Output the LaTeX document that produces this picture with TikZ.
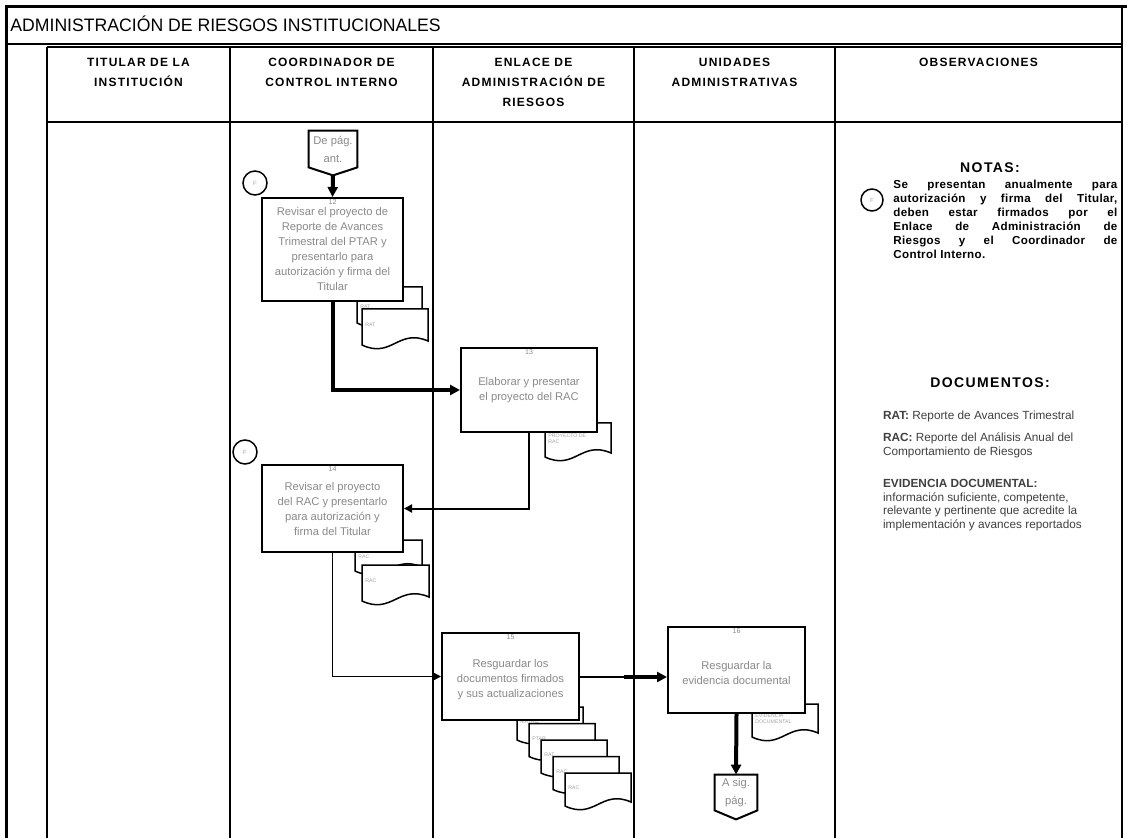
\documentclass[tikz,border=0pt]{standalone}
\usepackage{fontspec}
\setmainfont{Liberation Sans}
\newfontfamily\titlefont[FakeStretch=0.98]{Liberation Sans}
\newfontfamily\headfont[LetterSpace=10]{Liberation Sans}
\newfontfamily\notefont[LetterSpace=3]{Liberation Sans}
\usetikzlibrary{arrows.meta,calc}
\definecolor{boxtext}{HTML}{8A8A8A}
\definecolor{doctext}{HTML}{A5A5A5}
\definecolor{notetext}{HTML}{404040}
\tikzset{
  procbox/.style={draw, line width=1pt, fill=white, align=center, text=boxtext,
    font=\fontsize{5.6}{7.5}\selectfont, inner sep=1pt},
  stepnum/.style={anchor=north, inner sep=1pt, text=boxtext, font=\fontsize{3.5}{4}\selectfont},
  offpage/.style={align=center, text=boxtext, inner sep=0pt, font=\fontsize{5.6}{9}\selectfont},
  flowthick/.style={line width=2pt, -{Triangle[length=5pt,width=5pt]}},
  flowthin/.style={line width=0.7pt, -{Triangle[length=4pt,width=4pt]}},
  docline/.style={line width=0.75pt, fill=white},
  doclabel/.style={anchor=west, align=left, inner sep=0pt, text=doctext, font=\fontsize{2.6}{3}\selectfont},
  sigcirc/.style={draw, circle, line width=0.75pt, minimum size=12pt, inner sep=0pt,
    text=doctext, font=\fontsize{3}{3}\selectfont},
  lane/.style={line width=0.8pt},
  hdr/.style={anchor=north, align=center, font=\headfont\bfseries\fontsize{6}{10}\selectfont},
  notehead/.style={anchor=north, font=\headfont\bfseries\fontsize{7}{8}\selectfont},
  notebody/.style={anchor=north west, align=left, text=notetext, font=\fontsize{5.9}{6.9}\selectfont}
}
% document symbol: name, x, y, width, height, label
\newcommand{\docshape}[6]{%
  \filldraw[docline] (#2,#3) -- (#2+#4,#3) -- (#2+#4,#3+#5-4)
    .. controls (#2+0.55*#4,#3+#5-17) and (#2+0.45*#4,#3+#5+14) .. (#2,#3+#5) -- cycle;
  \node[doclabel] (#1) at (#2+3,#3+0.45*#5) {#6};
}
\begin{document}
\begin{tikzpicture}[x=0.5pt,y=-0.5pt]
\useasboundingbox (0,0) rectangle (1127,838);
\fill[white] (0,0) rectangle (1127,838);
% frame
\draw[line width=1.5pt] (6,838) -- (6,7) -- (1127,7);
\draw[line width=1.2pt] (1122,7) -- (1122,838);
\node[anchor=west, inner sep=0pt, font=\titlefont\fontsize{9}{9}\selectfont] (title) at (10,24)
  {ADMINISTRACIÓN DE RIESGOS INSTITUCIONALES};
\draw[lane] (6,44) -- (1122,44);
\draw[line width=1.2pt] (47,47) -- (1122,47);
\draw[lane] (47,122) -- (1122,122);
\foreach \x in {47,230,433,634,835}
  \draw[lane] (\x,47) -- (\x,838);
% headers
\node[hdr] (hTit) at (138.5,51) {TITULAR DE LA\\INSTITUCIÓN};
\node[hdr] (hCoo) at (331.5,51) {COORDINADOR DE\\CONTROL INTERNO};
\node[hdr] (hEnl) at (533.5,51) {ENLACE DE\\ADMINISTRACIÓN DE\\RIESGOS};
\node[hdr] (hUni) at (734.5,51) {UNIDADES\\ADMINISTRATIVAS};
\node[hdr] (hObs) at (978.5,51) {OBSERVACIONES};

% documents (behind the boxes)
\docshape{d12a}{357}{287}{65}{36}{PROYECTO DE\\RAT}
\docshape{d12b}{362}{309}{66}{36}{RAT}
\docshape{d13}{545}{423}{66}{34}{PROYECTO DE\\RAC}
\docshape{d14a}{355}{540}{67}{31}{PROYECTO\\RAC}
\docshape{d14b}{362}{565}{67}{36}{RAC}
\foreach \i/\lbl in {0/MATRIZ,1/PTAR,2/RAT,3/RAC,4/RAC}{
  \docshape{d15\i}{517+12*\i}{707+16.5*\i}{66}{33}{\lbl}
}
\docshape{d16}{752}{704}{66}{33}{EVIDENCIA\\DOCUMENTAL}

% off-page in
\node[offpage, minimum width=24pt, minimum height=18pt] (offA) at (333,149) {De pág.\\ant.};
\draw[line width=1pt] (offA.north west) -- (offA.north east) -- (offA.south east)
  -- ($(offA.south)+(0,8)$) -- (offA.south west) -- cycle;
\coordinate (offAtip) at ($(offA.south)+(0,8)$);

% activities
\node[procbox, minimum width=70.5pt, minimum height=51.5pt] (b12) at (332.5,249.5)
  {Revisar el proyecto de\\Reporte de Avances\\Trimestral del PTAR y\\presentarlo para\\autorización y firma del\\Titular};
\node[stepnum] (n12) at (b12.north) {12};
\node[procbox, minimum width=68pt, minimum height=42pt] (b13) at (529,390)
  {Elaborar y presentar\\el proyecto del RAC};
\node[stepnum] (n13) at (b13.north) {13};
\node[procbox, minimum width=70.5pt, minimum height=43.5pt] (b14) at (332.5,508.5)
  {Revisar el proyecto\\del RAC y presentarlo\\para autorización y\\firma del Titular};
\node[stepnum] (n14) at (b14.north) {14};
\node[procbox, minimum width=68.5pt, minimum height=43.5pt] (b15) at (510.5,676.5)
  {~\\Resguardar los\\documentos firmados\\y sus actualizaciones};
\node[stepnum] (n15) at (b15.north) {15};
\node[procbox, minimum width=68.5pt, minimum height=43pt] (b16) at (736.5,670)
  {~\\Resguardar la\\evidencia documental};
\node[stepnum] (n16) at (b16.north) {16};

% signature marks
\node[sigcirc] (c12) at (255,183) {F};
\node[sigcirc] (c14) at (245,452) {F};

% off-page out
\node[offpage, minimum width=21pt, minimum height=17.5pt] (offB) at (736,792.5) {A sig.\\pág.};
\draw[line width=1pt] (offB.north west) -- (offB.north east) -- (offB.south east)
  -- ($(offB.south)+(0,9)$) -- (offB.south west) -- cycle;

% flow
\draw[flowthick] (offAtip) -- (b12.north);
\draw[flowthick] (b12.south) |- (b13.west);
\draw[flowthin, line width=1pt] (b13.south) |- (b14.east);
\draw[flowthin] (b14.south) |- (b15.west);
\coordinate (j15) at (624,677);
\draw[line width=0.7pt] (b15.east |- j15) -- (j15);
\draw[flowthick] (j15) -- (j15 -| b16.west);
\draw[flowthick] (b16.south) -- (offB.north);

% notes
\node[notehead] (notT) at (990,156) {NOTAS:};
\node[sigcirc, minimum size=11pt] (cN) at (872,200) {F};
\node[anchor=north west, inner sep=0pt, text width=112pt, align=justify,
  font=\notefont\bfseries\fontsize{5.8}{7}\selectfont] (notP) at (893,180)
  {Se presentan anualmente para\linebreak autorización y firma del Titular,\linebreak deben estar firmados por el\linebreak Enlace de Administración de\linebreak Riesgos y el Coordinador de\linebreak Control Interno.};
\node[notehead] (docT) at (990,371) {DOCUMENTOS:};
\node[notebody] (ratN) at (876,404) {\textbf{RAT:} Reporte de Avances Trimestral};
\node[notebody] (racN) at (876,426) {\textbf{RAC:} Reporte del Análisis Anual del\\Comportamiento de Riesgos};
\node[notebody] (evN) at (876,472) {\textbf{EVIDENCIA DOCUMENTAL:}\\información suficiente, competente,\\relevante y pertinente que acredite la\\implementación y avances reportados};
\end{tikzpicture}
\end{document}
